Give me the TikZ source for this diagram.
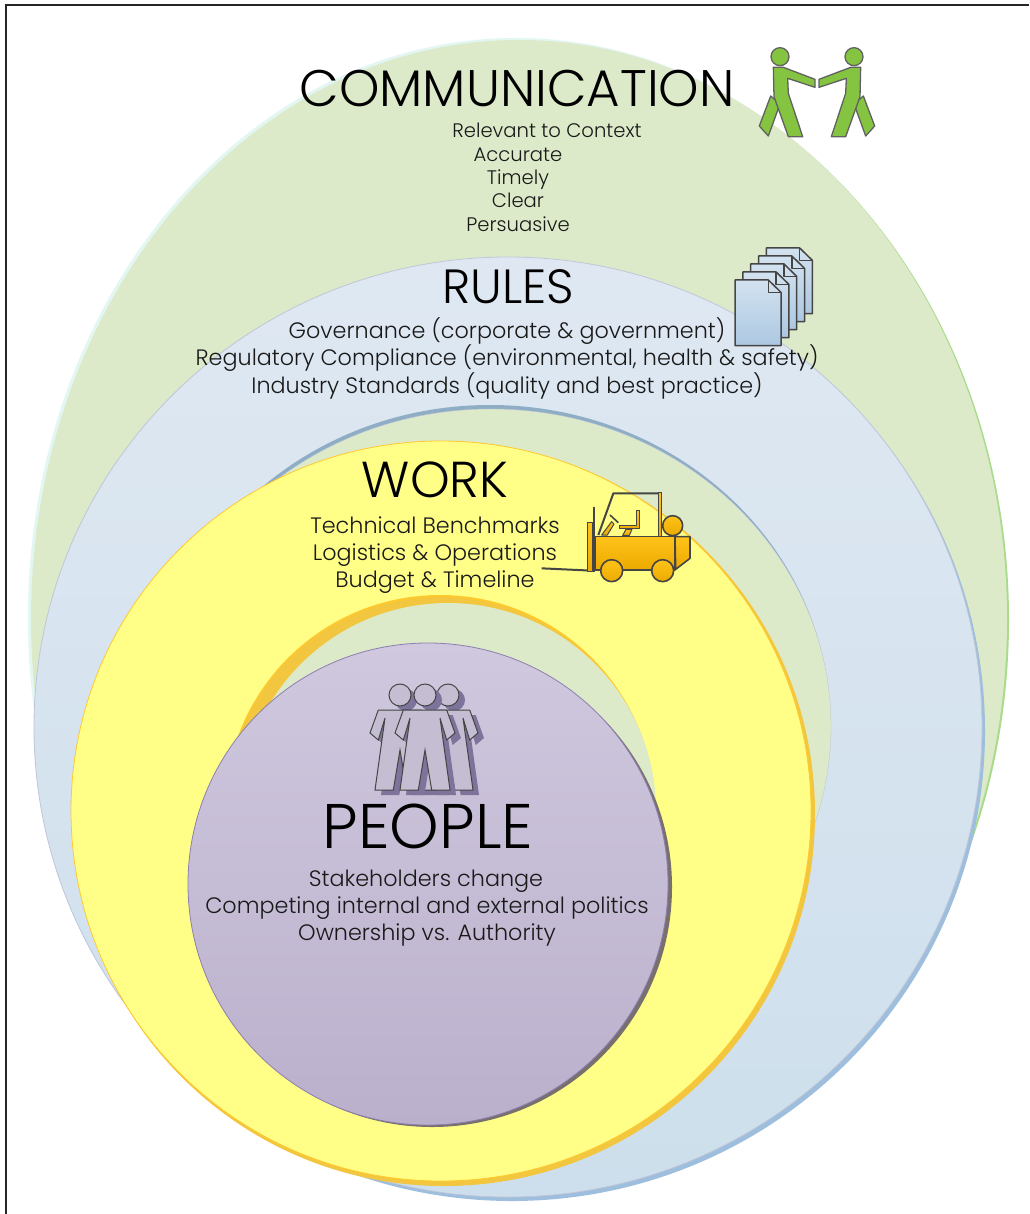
\documentclass[tikz,border=0pt]{standalone}
\usepackage{fontspec}
\setmainfont{Poppins}[UprightFont={* Light}]
\usetikzlibrary{calc, positioning}
\definecolor{ringGreen}{HTML}{DDEAC9}
\definecolor{ringLime}{HTML}{A9DB8C}
\definecolor{ringCyan}{HTML}{E2F6F2}
\definecolor{rimBlue}{HTML}{9DBEDC}
\definecolor{rimSteel}{HTML}{8FAEC6}
\definecolor{edgeBlue}{HTML}{BFC6D8}
\definecolor{blueTop}{HTML}{DFE8F2}
\definecolor{blueBottom}{HTML}{CDDFEC}
\definecolor{ringYellow}{HTML}{FFFF88}
\definecolor{edgeOrange}{HTML}{FFC92E}
\definecolor{rimOrange}{HTML}{F2C63E}
\definecolor{truckTop}{HTML}{FFC31A}
\definecolor{truckBottom}{HTML}{ECAA00}
\definecolor{edgePurple}{HTML}{8C7FB0}
\definecolor{purpleTop}{HTML}{CFC8DE}
\definecolor{purpleBottom}{HTML}{BBB0CC}
\definecolor{shadowGray}{HTML}{78706E}
\definecolor{shadowPurple}{HTML}{6F6390}
\definecolor{manFill}{HTML}{84C440}
\definecolor{iconLine}{HTML}{454545}
\tikzset{
    discGreen/.style={fill=ringGreen},
    discBlue/.style={draw=edgeBlue, thick, top color=blueTop, bottom color=blueBottom},
    discYellow/.style={draw=edgeOrange, thick, fill=ringYellow},
    discPurple/.style={draw=edgePurple, thick, top color=purpleTop, bottom color=purpleBottom},
    headText/.style={text=black, anchor=base, inner sep=0pt},
    subText/.style={text=black!90, anchor=base, font=\fontsize{22.3}{22.3}\selectfont, inner sep=0pt},
    smallText/.style={text=black!90, anchor=base, font=\fontsize{19.6}{19.6}\selectfont, inner sep=0pt},
    iconEdge/.style={draw=iconLine, line width=1.3pt, line join=round},
    manGreen/.style={iconEdge, draw=iconLine!85, fill=manFill},
    pageBlue/.style={iconEdge, line width=1.5pt, top color=rimBlue!45!white, bottom color=rimBlue!85!white},
    truckOrange/.style={iconEdge, line width=1.6pt, top color=truckTop, bottom color=truckBottom},
    figureLine/.style={draw=iconLine, line width=1pt, fill=purpleTop!95!black},
    figureDark/.style={fill=shadowPurple!90, draw=none},
}
\newcommand{\drawWalker}[1]{
    \begin{scope}[#1]
        \draw[manGreen] (180,80) circle (27);
        \draw[manGreen] (152,198) -- (180,222) -- (145,318) -- (118,288) -- cycle;
        \draw[manGreen] (160,112) -- (190,112) -- (285,148) -- (285,172) -- (203,145) -- (205,190) -- (248,320) -- (205,320) -- (162,200) -- cycle;
    \end{scope}
}
\newcommand{\drawSheet}[1]{
    \begin{scope}[shift={(#1)}]
        \draw[pageBlue] (45,135) -- (145,135) -- (183,172) -- (183,332) -- (45,332) -- cycle;
        \draw[iconEdge, line width=1.5pt] (145,135) -- (145,172) -- (183,172);
    \end{scope}
}
\newcommand{\drawFigure}[2]{
    \begin{scope}[shift={(#1)}]
        \draw[#2] (0,0) circle (11);
        \draw[#2] (-21.7,15) -- (-30,38) -- (-21.7,45) -- (-15,23) -- (-25,95) -- (-6.7,95) -- (0,55) -- (6.7,95) -- (25,95) -- (15,23) -- (21.7,45) -- (30,38) -- (21.7,15) -- cycle;
    \end{scope}
}
\newcommand{\headSize}[1]{\fontsize{#1}{#1}\selectfont}
\begin{document}
\begin{tikzpicture}[x=1pt, y=-1pt]
    \useasboundingbox (0,0) rectangle (1029,1214);
    \fill[white] (0,0) rectangle (1029,1214);
    \draw[black!85, line width=2pt] (1029,5) -- (6,5) -- (6,1214);

    % communication
    \fill[ringCyan] (516,618) ellipse (488 and 580);
    \fill[ringLime] (521,620) ellipse (488 and 578);
    \fill[discGreen] (519,619) ellipse (488 and 579);
    % rules
    \fill[rimBlue] (512,731) ellipse (473 and 470);
    \draw[discBlue] (508,727) ellipse (474 and 470);
    % middle green
    \fill[rimSteel] (490,723) ellipse (340 and 318);
    \draw[discGreen, draw=edgeBlue] (491,726) ellipse (340 and 317);
    % work
    \fill[rimOrange] (444,814) ellipse (371 and 372);
    \draw[discYellow] (441,811) ellipse (370 and 370);
    \fill[edgeOrange] (440,810) circle (215);
    \fill[rimOrange] (440,811) circle (214);
    \fill[discGreen] (448,811) circle (208);
    % people
    \fill[shadowGray] (432,887) ellipse (240 and 240);
    \draw[discPurple] (428,884) ellipse (240 and 241);

    % walkers
    \drawWalker{shift={(720,30)}, scale=1/3}
    \drawWalker{shift={(914,30)}, xscale=-1/3, yscale=1/3}

    % sheets
    \begin{scope}[shift={(720,235)}, scale=1/3]
        \foreach \i in {4,3,...,0} {
            \drawSheet{23.5*\i,-24*\i}
        }
    \end{scope}

    % forklift
    \begin{scope}[shift={(530,480)}, scale=1/3]
        \draw[iconEdge, line width=2pt] (205,165) -- (250,40) -- (388,40);
        \draw[truckOrange, line width=1pt] (385,38) rectangle (394,170);
        \draw[iconEdge, line width=2pt] (35,265) -- (187,272);
        \draw[iconEdge, line width=2pt] (192,80) -- (192,275);
        \draw[truckOrange, line width=1pt] (172,128) rectangle (187,275);
        \draw[truckOrange, line width=1pt] (215,165) -- (245,125) -- (252,132) -- (232,165) -- cycle;
        \draw[iconEdge, line width=1.6pt] (240,105) -- (265,128);
        \draw[truckOrange, line width=1pt] (268,136) -- (318,136) -- (318,92) -- (328,92) -- (328,146) -- (268,146) -- cycle;
        \draw[truckOrange, line width=1pt] (278,166) -- (288,148) -- (306,148) -- (298,166) -- cycle;
        \draw[truckOrange] (428,137) circle (30);
        \draw[truckOrange] (195,170) rectangle (435,270);
        \draw[truckOrange] (435,170) -- (480,170) -- (480,235) -- (437,268) -- cycle;
        \draw[truckOrange] (245,272) circle (33);
        \draw[truckOrange] (398,272) circle (33);
    \end{scope}

    % people figures
    \foreach \x in {400,448} {
        \drawFigure{\x+6,700}{figureDark}
        \drawFigure{\x,695}{figureLine}
    }
    \drawFigure{431,700}{figureDark}
    \drawFigure{425,695}{figureLine}

    % labels
    \node[headText, font=\headSize{51.4}] (comm) at (517,107) {COMMUNICATION};
    \node[smallText] (comm1) at (547,138) {Relevant to Context};
    \node[smallText] (comm2) at (518,162) {Accurate};
    \node[smallText] (comm3) at (518,185) {Timely};
    \node[smallText] (comm4) at (518,208) {Clear};
    \node[smallText] (comm5) at (518,232) {Persuasive};

    \node[headText, font=\headSize{48}] (rules) at (508,304) {RULES};
    \node[subText] (rules1) at (507,338) {Governance (corporate \& government)};
    \node[subText] (rules2) at (507,365) {Regulatory Compliance (environmental, health \& safety)};
    \node[subText] (rules3) at (507,393) {Industry Standards (quality and best practice)};

    \node[headText, font=\headSize{50.5}] (work) at (435,497) {WORK};
    \node[subText] (work1) at (435,533) {Technical Benchmarks};
    \node[subText] (work2) at (435,560) {Logistics \& Operations};
    \node[subText] (work3) at (435,587) {Budget \& Timeline};

    \node[headText, font=\headSize{63}] (people) at (428,848) {PEOPLE};
    \node[subText] (people1) at (426,886) {Stakeholders change};
    \node[subText] (people2) at (427,913) {Competing internal and external politics};
    \node[subText] (people3) at (427,940) {Ownership vs. Authority};
\end{tikzpicture}
\end{document}
